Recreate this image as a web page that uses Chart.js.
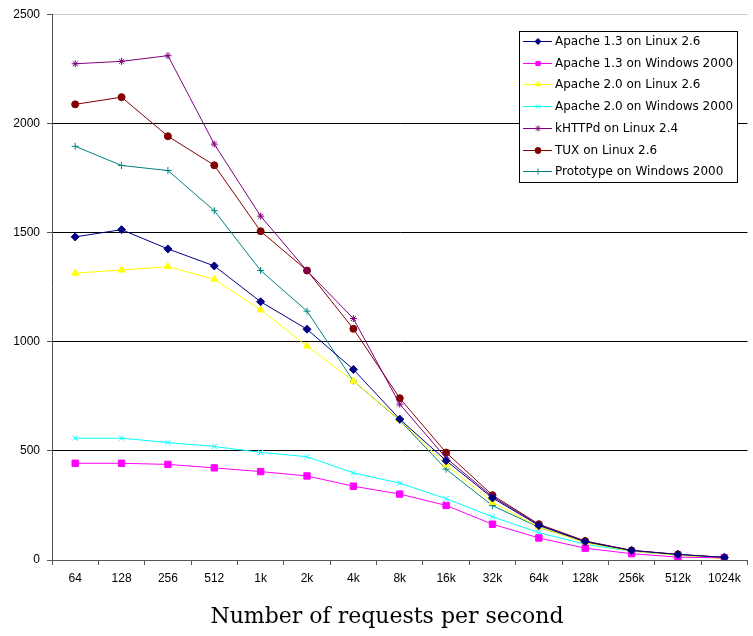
<!DOCTYPE html>
<html>
<head>
<meta charset="utf-8">
<script src="https://cdn.jsdelivr.net/npm/chart.js@4.4.1/dist/chart.umd.min.js"></script>
<style>
  html, body { margin: 0; padding: 0; background: #fff; }
  #chart { display: block; }
</style>
</head>
<body>
<canvas id="chart" width="753" height="636"></canvas>
<script>
// request rates on the x axis
const categories = ['64', '128', '256', '512', '1k', '2k', '4k', '8k', '16k', '32k', '64k', '128k', '256k', '512k', '1024k'];
const yTicks = [0, 500, 1000, 1500, 2000, 2500];
const xTitle = 'Number of requests per second';

// replies per second
const apache13Linux = [1480, 1513, 1425, 1347, 1183, 1057, 873, 645, 455, 284, 158, 84, 43, 25, 12];
const apache13Windows = [443, 443, 438, 422, 405, 385, 338, 302, 250, 164, 101, 54, 29, 13, 10];
const apache20Linux = [1314, 1328, 1344, 1286, 1146, 980, 820, 642, 436, 264, 151, 80, 40, 22, 5];
const apache20Windows = [558, 558, 538, 520, 493, 473, 399, 352, 281, 198, 125, 72, 40, 22, 10];
const khttpdLinux = [2273, 2284, 2310, 1905, 1575, 1325, 1106, 714, 467, 290, 162, 85, 44, 25, 12];
const tuxLinux = [2087, 2120, 1941, 1808, 1506, 1326, 1059, 741, 492, 297, 164, 87, 44, 26, 12];
const prototypeWindows = [1895, 1807, 1784, 1600, 1326, 1140, 820, 640, 416, 249, 150, 82, 42, 24, 10];

function series(label, data, color, style, radius) {
    return {
        label: label,
        data: data,
        borderColor: color,
        backgroundColor: color,
        borderWidth: 1,
        pointStyle: style,
        pointRadius: radius,
        pointBorderWidth: 1,
        pointBorderColor: color,
        pointBackgroundColor: color,
        tension: 0
    };
}

const datasets = [
    series('Apache 1.3 on Linux 2.6', apache13Linux, '#000080', 'rectRot', 4),
    series('Apache 1.3 on Windows 2000', apache13Windows, '#ff00ff', 'rect', 4.5),
    series('Apache 2.0 on Linux 2.6', apache20Linux, '#ffff00', 'triangle', 4),
    series('Apache 2.0 on Windows 2000', apache20Windows, '#00ffff', 'crossRot', 3.5),
    series('kHTTPd on Linux 2.4', khttpdLinux, '#800080', 'star', 3.5),
    series('TUX on Linux 2.6', tuxLinux, '#800000', 'circle', 3.5),
    series('Prototype on Windows 2000', prototypeWindows, '#008080', 'cross', 3.5)
];

// legend box sitting inside the plot, like the spreadsheet one
const boxLegend = {
    id: 'boxLegend',
    afterDraw(chart) {
        const ctx = chart.ctx;
        const x0 = 519, y0 = 31, w = 218, h = 151;
        ctx.save();
        ctx.fillStyle = '#ffffff';
        ctx.fillRect(x0, y0, w, h);
        ctx.strokeStyle = '#000000';
        ctx.lineWidth = 1;
        ctx.strokeRect(x0 + 0.5, y0 + 0.5, w, h);
        ctx.font = '12px "DejaVu Sans", Verdana, sans-serif';
        ctx.textBaseline = 'middle';
        chart.data.datasets.forEach((ds, i) => {
            const y = Math.round(y0 + 10 + i * 21.7) + 0.5;
            ctx.strokeStyle = ds.borderColor;
            ctx.beginPath();
            ctx.moveTo(x0 + 4, y);
            ctx.lineTo(x0 + 33, y);
            ctx.stroke();
            if (Chart.helpers && Chart.helpers.drawPoint) {
                ctx.fillStyle = ds.pointBackgroundColor;
                ctx.strokeStyle = ds.pointBorderColor;
                Chart.helpers.drawPoint(ctx, {
                    pointStyle: ds.pointStyle,
                    radius: 3,
                    borderWidth: 1,
                    rotation: 0
                }, x0 + 19, y);
            }
            ctx.fillStyle = '#000000';
            ctx.fillText(ds.label, x0 + 36, y);
        });

        // axis title under the tick labels
        ctx.font = '22px "DejaVu Serif", serif';
        ctx.textAlign = 'center';
        ctx.fillText(xTitle, 387, 617);
        ctx.restore();
    }
};

const ctx = document.getElementById('chart').getContext('2d');
new Chart(ctx, {
    type: 'line',
    data: {
        labels: categories,
        datasets: datasets
    },
    options: {
        responsive: false,
        animation: false,
        layout: { padding: { top: 11, right: 1, left: 0, bottom: 0 } },
        plugins: {
            legend: { display: false },
            tooltip: { enabled: false }
        },
        scales: {
            x: {
                offset: true,
                grid: {
                    offset: true,
                    drawOnChartArea: false,
                    drawTicks: true,
                    tickLength: 5,
                    tickColor: '#555'
                },
                border: { color: '#555', width: 1 },
                ticks: {
                    color: '#000',
                    padding: 6,
                    maxRotation: 0,
                    autoSkip: false,
                    font: { family: '"Liberation Sans", Arial, sans-serif', size: 12 }
                },
                afterFit(scale) { scale.height = 76; }
            },
            y: {
                min: 0,
                max: 2500,
                afterBuildTicks(scale) {
                    scale.ticks = yTicks.map(v => ({ value: v }));
                },
                grid: {
                    color: ctx => (ctx.tick && ctx.tick.value === 2500 ? '#c8c8c8' : '#000'),
                    lineWidth: 1,
                    tickLength: 5,
                    tickColor: '#555'
                },
                border: { color: '#555', width: 1 },
                ticks: {
                    color: '#000',
                    padding: 7,
                    callback: v => String(v),
                    font: { family: '"Liberation Sans", Arial, sans-serif', size: 12 }
                },
                afterFit(scale) { scale.width = 52; }
            }
        }
    },
    plugins: [boxLegend]
});
</script>
</body>
</html>
